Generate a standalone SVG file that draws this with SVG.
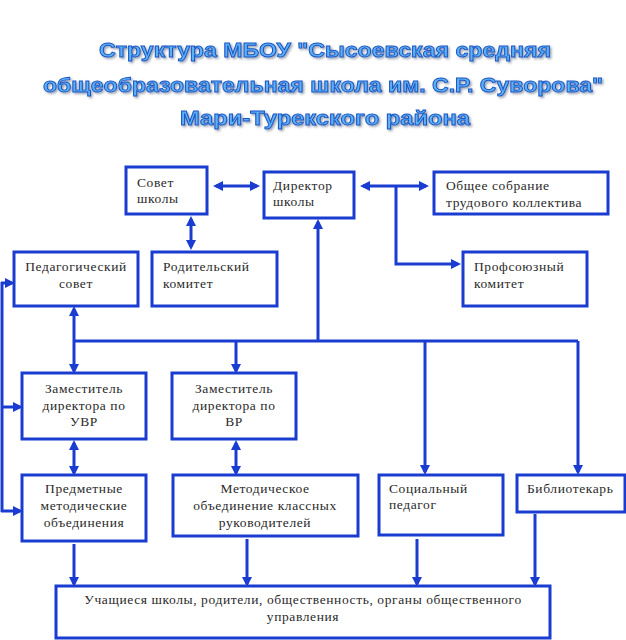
<svg xmlns="http://www.w3.org/2000/svg" width="626" height="640" viewBox="0 0 626 640">
<defs>
<style>
.box{fill:#fff;stroke:#1a3cd0;stroke-width:3}
.lbl{font-family:"Liberation Serif",serif;font-size:13.5px;letter-spacing:0.6px;fill:#2a2a2a}
.c{text-anchor:middle}
.ttl{font-family:"Liberation Sans",Arial,sans-serif;font-weight:bold;font-size:20px;fill:#5cb2f6;stroke:#1a56c4;stroke-width:0.9;text-anchor:middle;filter:url(#sh)}
.con{fill:none;stroke:#1a3cd0;stroke-width:3}
.a{marker-end:url(#ah)}
.aa{marker-start:url(#ah);marker-end:url(#ah)}
</style>
<marker id="ah" markerUnits="userSpaceOnUse" markerWidth="10" markerHeight="10" viewBox="0 0 10 10" refX="7" refY="5" orient="auto-start-reverse">
<path d="M0,0 L10,5 L0,10 z" fill="#1a3cd0"/>
</marker>
<filter id="sh" x="-5%" y="-30%" width="110%" height="160%">
<feDropShadow dx="1.5" dy="1.5" stdDeviation="0.8" flood-color="#6a7a90" flood-opacity="0.7"/>
</filter>
</defs>

<g id="title">
<text class="ttl" x="325" y="57" textLength="452" lengthAdjust="spacingAndGlyphs">Структура МБОУ "Сысоевская средняя</text>
<text class="ttl" x="323" y="92" textLength="560" lengthAdjust="spacingAndGlyphs">общеобразовательная школа им. С.Р. Суворова"</text>
<text class="ttl" x="325" y="125" textLength="290" lengthAdjust="spacingAndGlyphs">Мари-Турекского района</text>
</g>

<g id="connectors">
<path class="con aa" d="M216,186 H257"/>
<path class="con aa" d="M191,219 V247"/>
<path class="con aa" d="M363,186 H426"/>
<path class="con a" d="M396,186 V264 H458"/>
<path class="con a" d="M318,342 V222"/>
<path class="con" d="M74,341 H578"/>
<path class="con a" d="M578,341 V472"/>
<path class="con a" d="M425,341 V472"/>
<path class="con aa" d="M74,309 V371"/>
<path class="con a" d="M236,341 V371"/>
<path class="con aa" d="M74,443 V473"/>
<path class="con aa" d="M236,443 V473"/>
<path class="con" d="M2,282 V512"/>
<path class="con a" d="M1,283 H12"/>
<path class="con a" d="M1,407 H20"/>
<path class="con a" d="M1,511 H20"/>
<path class="con a" d="M74,544 V584"/>
<path class="con a" d="M247,539 V584"/>
<path class="con a" d="M417,539 V584"/>
<path class="con a" d="M535,514 V584"/>
</g>

<g id="sovet">
<rect class="box" x="126" y="167" width="81" height="47"/>
<text class="lbl" x="137" y="187">Совет</text>
<text class="lbl" x="137" y="203">школы</text>
</g>
<g id="direktor">
<rect class="box" x="264" y="172" width="90" height="46"/>
<text class="lbl" x="273" y="190">Директор</text>
<text class="lbl" x="273" y="206">школы</text>
</g>
<g id="sobranie">
<rect class="box" x="434" y="172" width="174" height="42"/>
<text class="lbl" x="446" y="190">Общее собрание</text>
<text class="lbl" x="446" y="207">трудового коллектива</text>
</g>
<g id="profsoyuz">
<rect class="box" x="463" y="252" width="124" height="54"/>
<text class="lbl" x="474" y="271">Профсоюзный</text>
<text class="lbl" x="474" y="288">комитет</text>
</g>
<g id="pedsovet">
<rect class="box" x="14" y="252" width="124" height="54"/>
<text class="lbl c" x="76" y="271">Педагогический</text>
<text class="lbl c" x="76" y="288">совет</text>
</g>
<g id="roditeli">
<rect class="box" x="152" y="252" width="125" height="54"/>
<text class="lbl" x="163" y="271">Родительский</text>
<text class="lbl" x="163" y="288">комитет</text>
</g>
<g id="zam-uvr">
<rect class="box" x="22" y="373" width="124" height="66"/>
<text class="lbl c" x="84" y="393">Заместитель</text>
<text class="lbl c" x="84" y="410">директора по</text>
<text class="lbl c" x="84" y="426">УВР</text>
</g>
<g id="zam-vr">
<rect class="box" x="172" y="373" width="124" height="66"/>
<text class="lbl c" x="234" y="393">Заместитель</text>
<text class="lbl c" x="234" y="410">директора по</text>
<text class="lbl c" x="234" y="426">ВР</text>
</g>
<g id="predmetnye">
<rect class="box" x="22" y="475" width="124" height="66"/>
<text class="lbl c" x="84" y="493">Предметные</text>
<text class="lbl c" x="84" y="510">методические</text>
<text class="lbl c" x="84" y="527">объединения</text>
</g>
<g id="metod-klass">
<rect class="box" x="173" y="475" width="185" height="61"/>
<text class="lbl c" x="265" y="493">Методическое</text>
<text class="lbl c" x="265" y="510">объединение классных</text>
<text class="lbl c" x="265" y="527">руководителей</text>
</g>
<g id="socped">
<rect class="box" x="379" y="475" width="124" height="60"/>
<text class="lbl" x="389" y="493">Социальный</text>
<text class="lbl" x="389" y="509">педагог</text>
</g>
<g id="bibliotekar">
<rect class="box" x="517" y="475" width="108" height="37"/>
<text class="lbl" x="527" y="493">Библиотекарь</text>
</g>
<g id="uchashiesya">
<rect class="box" x="56" y="586" width="494" height="52"/>
<text class="lbl c" x="303" y="604">Учащиеся школы, родители, общественность, органы общественного</text>
<text class="lbl c" x="303" y="621">управления</text>
</g>
</svg>
